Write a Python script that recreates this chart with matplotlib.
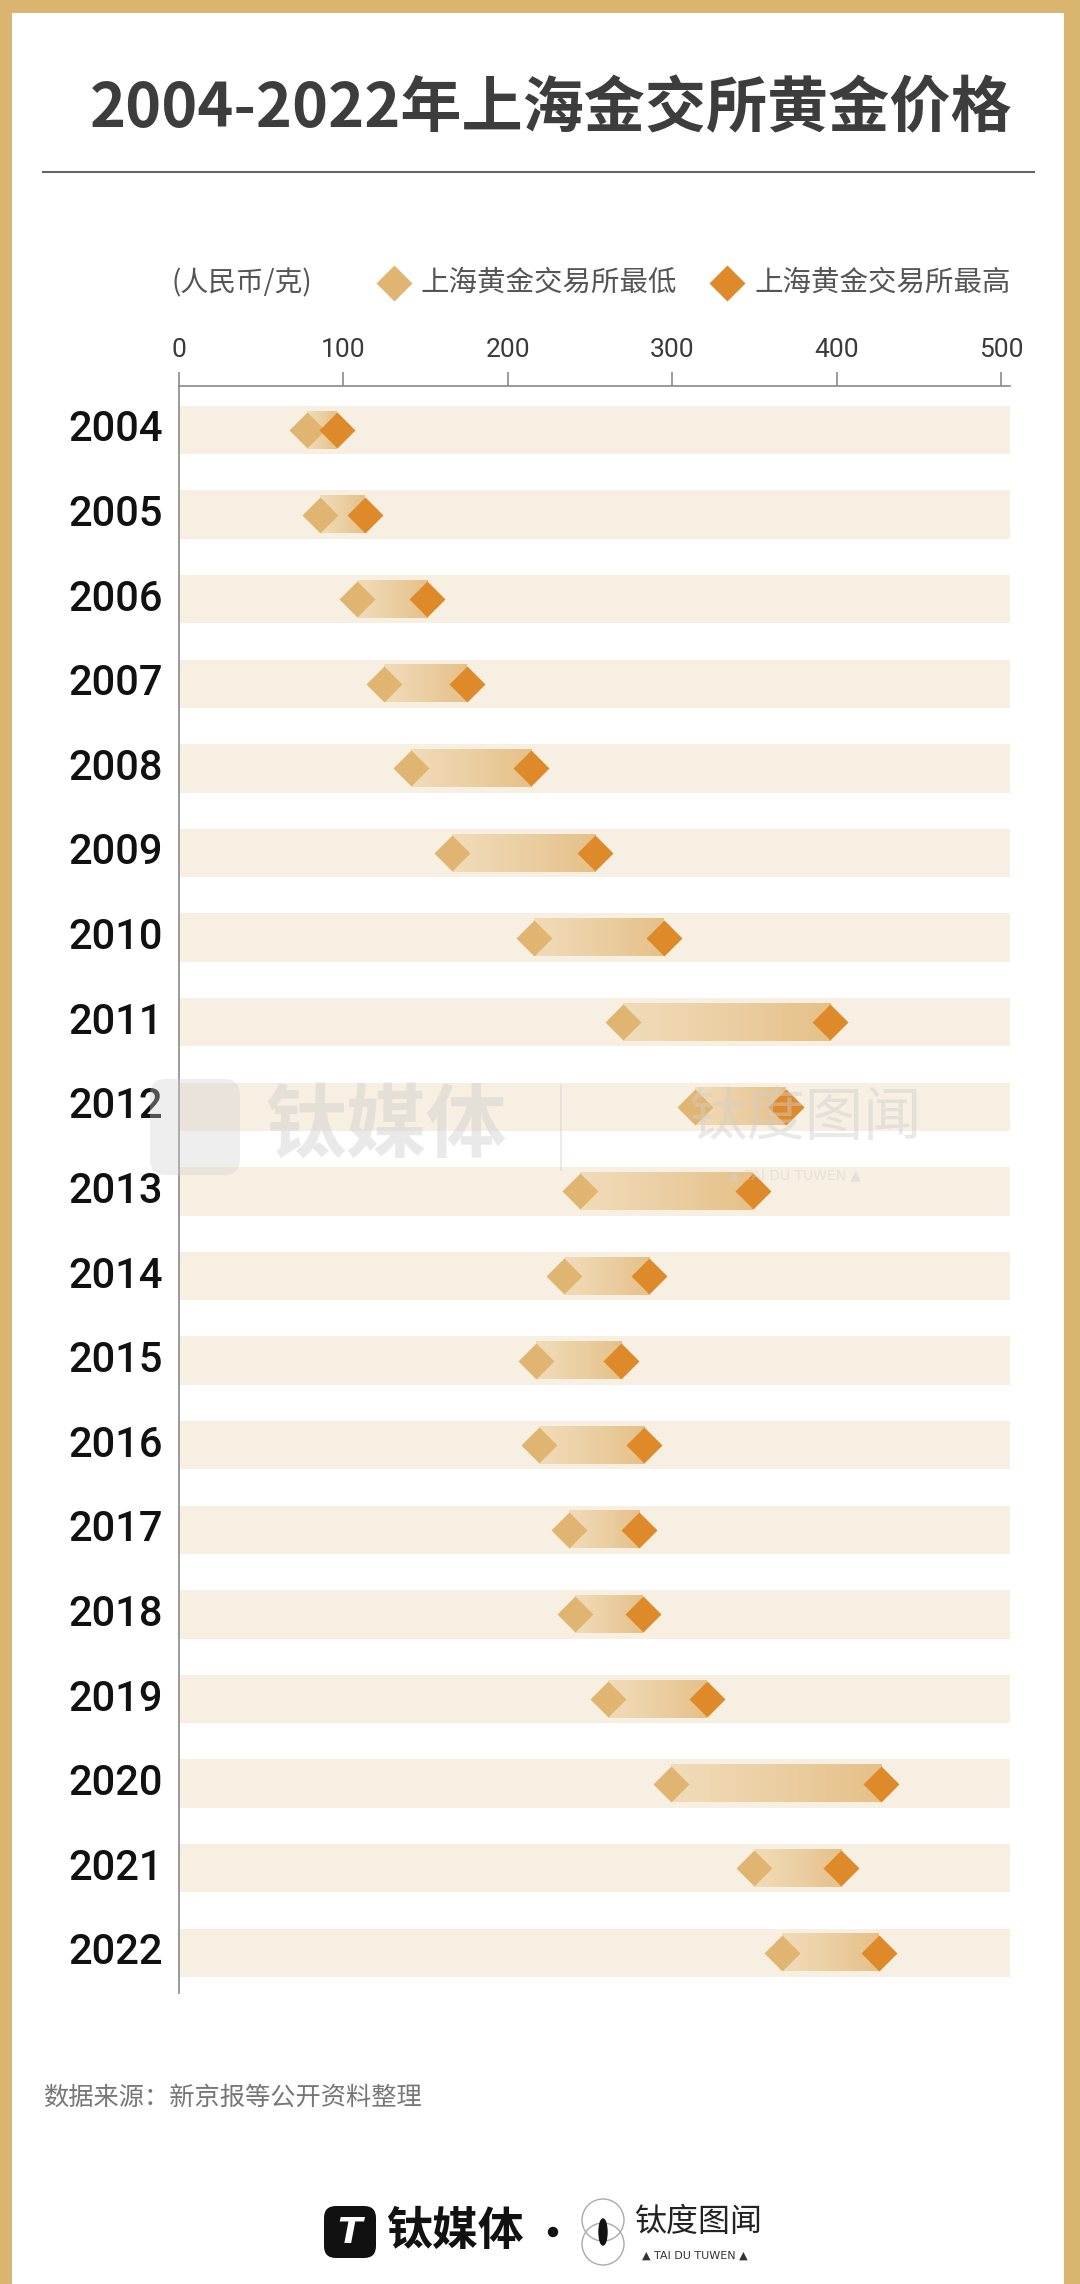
import matplotlib.pyplot as plt
import matplotlib.transforms as mtransforms
from matplotlib.colors import LinearSegmentedColormap
from matplotlib.patches import Rectangle, FancyBboxPatch, Circle, Ellipse
import numpy as np

plt.rcParams['font.family'] = ['Noto Sans CJK SC', 'DejaVu Sans']

# data (元/克)
years = [2004, 2005, 2006, 2007, 2008, 2009, 2010, 2011, 2012, 2013,
         2014, 2015, 2016, 2017, 2018, 2019, 2020, 2021, 2022]
low_price = [78, 86, 108, 125, 141, 166, 216, 270, 314, 244,
             234, 217, 219, 237, 241, 261, 299, 350, 367]
high_price = [96, 113, 151, 175, 214, 253, 295, 396, 369, 349,
              286, 269, 283, 280, 282, 321, 427, 403, 426]
x_ticks = [0, 100, 200, 300, 400, 500]

title = '2004-2022年上海金交所黄金价格'
unit_label = '(人民币/克)'
low_label = '上海黄金交易所最低'
high_label = '上海黄金交易所最高'
source = '数据来源：新京报等公开资料整理'

gold = '#d9b56f'
band_col = '#f7efe1'
low_col = '#e0b571'
high_col = '#df8a2a'
grad = LinearSegmentedColormap.from_list('g', ['#f1dcb9', '#ebcfa3', '#e6c088'])

W, H = 1080, 2284
fig = plt.figure(figsize=(W/100, H/100), dpi=100)
fig.patch.set_facecolor('white')

# overlay in pixel coords for the decoration
ov = fig.add_axes([0, 0, 1, 1])
ov.set_xlim(0, W)
ov.set_ylim(H, 0)
ov.axis('off')

# frame
ov.add_patch(Rectangle((0, 0), 12, H, color=gold, lw=0))
ov.add_patch(Rectangle((0, 0), W, 13, color=gold, lw=0))
ov.add_patch(Rectangle((1064, 0), 16, H, color=gold, lw=0))

ov.text(90, 110, title, fontsize=44, fontweight='bold', color='#3d3d3d',
        ha='left', va='center')
ov.plot([43, 1034], [172, 172], color='#666666', lw=1.5)

# legend row
ov.text(172, 283, unit_label, fontsize=20, color='#555555', ha='left', va='center')
ov.plot([394], [283], marker='D', ms=18, color=low_col, mec='none')
ov.text(420, 283, low_label, fontsize=20.5, color='#555555', ha='left', va='center')
ov.plot([727], [283], marker='D', ms=18, color=high_col, mec='none')
ov.text(754, 283, high_label, fontsize=20.5, color='#555555', ha='left', va='center')

ov.text(43, 2098, source, fontsize=18.2, color='#777777', ha='left', va='center')

# bottom logos
ov.add_patch(FancyBboxPatch((324, 2206), 52, 52, boxstyle='round,pad=0,rounding_size=12',
                            fc='#111111', ec='none'))
ov.text(350, 2233, 'T', fontsize=26, fontweight='bold', color='white',
        ha='center', va='center', family='DejaVu Sans', style='italic')
ov.text(386, 2232, '钛媒体', fontsize=33, fontweight='bold', color='#111111',
        ha='left', va='center')
ov.add_patch(Circle((553, 2232), 4.5, color='#111111'))
ov.add_patch(Circle((603, 2220), 21, fill=False, ec='#aaaaaa', lw=1))
ov.add_patch(Circle((603, 2244), 21, fill=False, ec='#aaaaaa', lw=1))
ov.add_patch(Ellipse((603, 2232), 8, 26, color='#111111'))
ov.text(635, 2222, '钛度图闻', fontsize=23, color='#222222', ha='left', va='center')
ov.text(695, 2256, '▲ TAI DU TUWEN ▲', fontsize=8, color='#333333',
        ha='center', va='center', family='DejaVu Sans')

# main chart
x0, x1 = 179, 1010
y_top, y_bot = 386, 1993
row0, step = 430, 84.6
ax = fig.add_axes([x0/W, 1 - y_bot/H, (x1 - x0)/W, (y_bot - y_top)/H])
ax.set_zorder(2)
ax.patch.set_visible(False)
xmax = 505.5
ax.set_xlim(0, xmax)
ylo = (y_bot - row0)/step
yhi = (y_top - row0)/step
ax.set_ylim(ylo, yhi)

ypos = np.arange(len(years))
ax.barh(ypos, xmax, left=0, height=0.57, color=band_col, zorder=1)
gvals = np.linspace(0, 1, 256).reshape(1, -1)
for i in range(len(years)):
    ax.imshow(gvals, cmap=grad, aspect='auto', zorder=2, interpolation='bilinear',
              extent=[low_price[i], high_price[i], i + 0.22, i - 0.22])
ax.plot(low_price, ypos, ls='none', marker='D', ms=18, color=low_col, mec='none', zorder=3)
ax.plot(high_price, ypos, ls='none', marker='D', ms=18, color=high_col, mec='none', zorder=4)
ax.set_xlim(0, xmax)
ax.set_ylim(ylo, yhi)

for s in ['right', 'bottom']:
    ax.spines[s].set_visible(False)
for s in ['top', 'left']:
    ax.spines[s].set_color('#8a8a8a')
    ax.spines[s].set_linewidth(1.2)
ax.xaxis.tick_top()
ax.set_xticks(x_ticks)
ax.tick_params(axis='x', direction='out', length=10, width=1.2, color='#8a8a8a',
               pad=7, labelsize=19, labelcolor='#3a3a3a')
for lab in ax.get_xticklabels():
    lab.set_fontfamily(['Roboto', 'DejaVu Sans'])
ax.set_yticks([])

trans = mtransforms.blended_transform_factory(ov.transData, ax.transData)
for i, yr in enumerate(years):
    ax.text(68, i, str(yr), transform=trans, fontsize=30, fontweight='medium',
            color='#111111', ha='left', va='center', family=['Roboto', 'DejaVu Sans'],
            clip_on=False)

# faint watermark on top
wm = '#cfcfcf'
ax.add_patch(FancyBboxPatch((150, 1079), 90, 96, boxstyle='round,pad=0,rounding_size=16',
                            fc=wm, ec='none', alpha=0.35, transform=ov.transData,
                            clip_on=False, zorder=10))
ax.text(265, 1127, '钛媒体', transform=ov.transData, fontsize=58, fontweight='bold',
        color=wm, alpha=0.45, ha='left', va='center', clip_on=False, zorder=10)
ax.plot([561, 561], [1085, 1170], transform=ov.transData, color=wm, alpha=0.5,
        lw=1.2, clip_on=False, zorder=10)
ax.text(688, 1118, '钛度图闻', transform=ov.transData, fontsize=42,
        color=wm, alpha=0.45, ha='left', va='center', clip_on=False, zorder=10)
ax.text(795, 1175, '▲ TAI DU TUWEN ▲', transform=ov.transData, fontsize=10,
        color=wm, alpha=0.45, ha='center', va='center', family='DejaVu Sans',
        clip_on=False, zorder=10)

fig.savefig('out.png', dpi=100)
